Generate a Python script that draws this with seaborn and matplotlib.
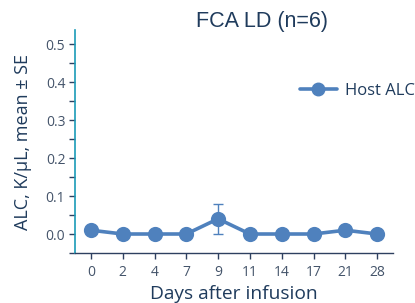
import numpy as np
import pandas as pd
import seaborn as sns
import matplotlib.pyplot as plt
from matplotlib.lines import Line2D
from matplotlib.ticker import MultipleLocator

days = ["0", "2", "4", "7", "9", "11", "14", "17", "21", "28"]
alc_mean = [0.01, 0.0, 0.0, 0.0, 0.04, 0.0, 0.0, 0.0, 0.01, 0.0]
alc_se = [0.0, 0.0, 0.0, 0.0, 0.04, 0.0, 0.0, 0.0, 0.0, 0.0]

df = pd.DataFrame({"Day": days, "ALC": alc_mean})

sns.set_theme(style="white")
plt.rcParams["font.family"] = ["Open Sans", "DejaVu Sans"]

blue = "#4F81BD"
navy = "#1F3B5C"
tick_col = "#44546A"

fig = plt.figure(figsize=(4.15, 3.03), dpi=100)
ax = fig.add_axes([75 / 415, 50 / 303, 318 / 415, 223 / 303])

sns.pointplot(data=df, x="Day", y="ALC", color=blue, errorbar=None,
              markers="o", markersize=9, linewidth=2.6, ax=ax)
ax.errorbar(np.arange(len(days)), alc_mean, yerr=alc_se, fmt="none",
            ecolor=blue, elinewidth=1.0, capsize=3.5, capthick=1.0, zorder=1)

ax.set_xlim(-0.5, 9.5)
ax.set_ylim(-0.05, 0.537)
ax.yaxis.set_minor_locator(MultipleLocator(0.05))
ax.set_yticks(np.arange(0, 0.51, 0.1))
ax.set_yticklabels([f"{v:.1f}" for v in np.arange(0, 0.51, 0.1)])

for s in ["top", "right"]:
    ax.spines[s].set_visible(False)
ax.spines["left"].set_color("#1A9BB8")
ax.spines["left"].set_linewidth(1.2)
ax.spines["bottom"].set_color("#2E4060")
ax.spines["bottom"].set_linewidth(1.0)

ax.tick_params(axis="y", which="both", direction="out", left=True,
               length=4, width=1, color="#2E4060", labelsize=10,
               labelcolor=tick_col, pad=3)
ax.tick_params(axis="x", direction="out", bottom=True, length=4, width=1,
               color="#2E4060", labelsize=10, labelcolor=tick_col, pad=5)

ax.set_xlabel("Days after infusion", fontsize=13.8, color=navy, labelpad=3)
ax.set_ylabel("ALC, K/\u00b5L, mean \u00b1 SE", fontsize=13, color=navy,
              labelpad=10)

fig.text(262 / 415, 281 / 303, "FCA LD (n=6)", fontsize=15.5, color=navy,
         ha="center", va="center", family=["Liberation Sans", "DejaVu Sans"])

handle = Line2D([], [], color=blue, linewidth=2.6, marker="o", markersize=9)
ax.legend([handle], ["Host ALC"], loc="center left",
          bbox_to_anchor=(0.66, 0.725), frameon=False, fontsize=12,
          labelcolor=navy, handlelength=2.2, handletextpad=0.5)

fig.savefig("out.png", dpi=100)
